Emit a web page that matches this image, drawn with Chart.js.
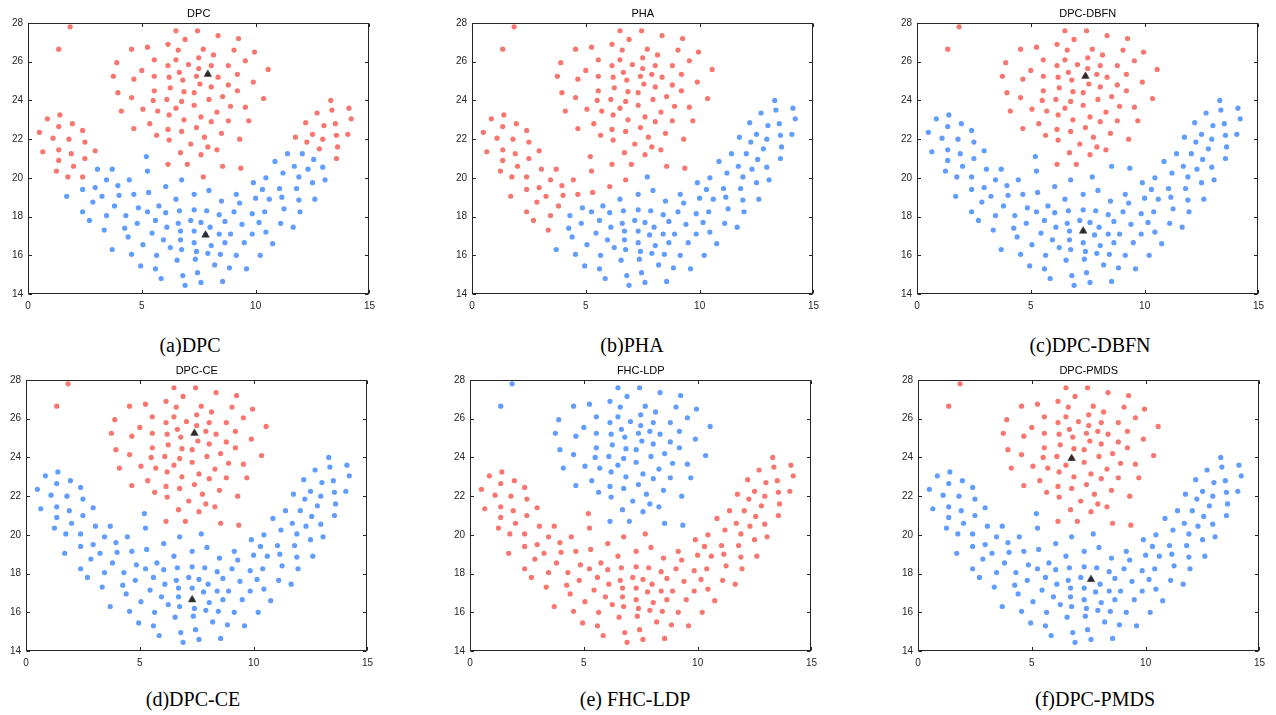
<!DOCTYPE html>
<html>
<head>
<meta charset="utf-8">
<script src="https://cdn.jsdelivr.net/npm/chart.js@4.4.0/dist/chart.umd.min.js"></script>
<style>
  html, body { margin: 0; padding: 0; background: #fff; }
  body { width: 1276px; height: 715px; position: relative; overflow: hidden; }
  canvas { position: absolute; }
  .cap {
    position: absolute;
    font-family: "Liberation Serif", "Times New Roman", serif;
    font-size: 20px;
    color: #000;
    white-space: nowrap;
    transform: translateX(-50%);
  }
</style>
</head>
<body>
<script>
// axis ticks
const xTicks = [0, 5, 10, 15];
const yTicks = [14, 16, 18, 20, 22, 24, 26, 28];

// point groups (x, y)
const outliers = [[1.85,27.8],[1.35,26.65]];
const leftArm = [[1.4,23.25],[0.85,23.05],[0.5,22.35],[0.65,21.35],[1.1,22.05],[1.35,22.65],[1.95,22.8],[2.4,22.45],
  [1.8,22],[2.5,21.85],[2.95,21.4],[1.9,21.25],[1.35,21.45],[1.35,20.9],[1.25,20.35],[1.75,20.05],[2,20.6],[2.5,21]];
const armJoint = [[2.4,20.05]];
const phaLeft = [[1.7,19.05],[3.05,20.45],[3.7,20.45],[3.45,19.9],[2.95,19.5],[2.4,19.4],[2.4,18.25],[2.85,18.75],
  [3.25,19.05],[3.95,19.6],[2.7,17.8],[3.45,18.05],[3.8,18.55],[4,19.1],[4.45,19.9],[4.65,19.15],[3.35,17.3],
  [5.3,19.25],[6.05,19.55]];
const neck = [[5.2,21.1],[5.25,20.35],[6.75,19.9]];
const topCore = [[6.5,27.6],[7.45,27.6],[4.55,26.65],[5.25,26.75],[6.15,26.9],[6.6,26.6],[6.9,27.15],[3.9,25.95],
  [5.55,26.1],[6.5,26.1],[6.15,25.8],[5,25.55],[7.05,25.85],[3.75,25.25],[4.65,25.1],[5.55,25.25],[6.2,25.2],
  [6.65,25.45],[6.8,25.05],[7.4,25.25],[5.55,24.5],[6.25,24.65],[3.95,24.4],[6.85,24.45],[7.3,24.4],[4.55,24.15],
  [5.5,24],[6.1,24.05],[6.75,23.95],[7.3,23.75],[6.5,23.6],[5.7,23.45],[4.1,23.45],[5.05,23.55],[6.2,23.25],
  [6.85,23],[5.35,22.8],[4.65,22.55],[5.65,22.2],[6.15,22.5],[6.75,22.4],[6.2,21.95],[7.15,21.75],[7.4,22.6],
  [6.7,21.3],[6.15,20.7],[7,20.7],
  [8.35,27.35],[9.25,27.2],[7.7,26.65],[8.15,26.35],[9.05,26.6],[9.95,26.5],[7.5,26.2],[8.05,25.8],[8.8,25.8],
  [9.55,26.05],[7.5,25.65],[10.55,25.6],[7.9,25.35],[8.35,25.2],[9.2,25.35],[7.55,24.85],[8.05,24.7],[8.8,24.8],
  [9.9,24.95],[9.2,24.5],[7.95,24.05],[8.55,24.2],[10.35,24.1],[8.9,23.7],[9.55,23.65],[8.3,23.4],[7.6,23.15],
  [8.05,22.9],[8.8,22.95],[9.7,22.95],[8.5,22.3],[7.75,22.1],[9.3,22],[7.9,21.6],[8.3,21.45],[7.6,21.2]];
const edgeLow = [[7.7,20.05]];
const edgeRight = [[8.55,20.6],[9.35,20.5]];
const rightTip = [[13.3,24],[14.1,23.6],[12.7,23.35],[13.35,23.5],[14.2,23.05],[12.2,22.85],[13,22.7],[13.5,22.8],
  [11.75,22.1],[12.5,22.25],[13.55,22.2],[14.05,22.25],[12.25,21.85],[12.95,22],[12.8,21.5],[13.6,21.6],[13.55,21]];
const lowerLeft = [[4.85,18.45],[4.3,18.05],[3.7,16.3],[4.4,16.95],[4.25,17.4],[4.8,17.65],[5.25,18.25],[5.75,18.55],
  [6.5,18.9],[6.05,18.2],[5.6,17.8],[5.45,17.15],[5.05,16.55],[4.55,16.05],[4.95,15.45],[5.85,14.8],[5.6,15.3],
  [5.65,16],[5.95,16.8],[6.25,16.4],[6.1,17.45],[6.6,17.65],[6.65,18.3],[7.3,18.35],[7.85,18.3],[7.15,17.8],
  [7.6,17.7],[6.7,17.25],[7.3,17.25],[6.7,16.8],[7.3,16.65],[6.75,16.3],[7.4,16.2],[6.55,15.75],[7.35,15.8],
  [6.8,14.95],[6.9,14.45],[7.45,15.1]];
const lowerRight = [[7.3,19.15],[7.95,19.35],[8.5,18.8],[9.15,19.15],[9.3,18.7],[10,18.95],[10.6,18.9],[11.15,19],
  [11.9,18.85],[12.6,18.9],[8.4,18.1],[9.05,18.25],[9.85,18.15],[10.4,18.25],[11.25,18.4],[11.95,18.25],
  [8.65,17.75],[9.4,17.6],[10.15,17.7],[11.1,17.65],[11.65,17.45],[8,17.45],[7.8,17.05],[8.4,17.1],[8.9,17.1],
  [9.85,17.1],[10.45,17.2],[8.05,16.5],[8.65,16.65],[9.5,16.65],[10.75,16.6],[7.9,16.1],[8.45,16.05],[9.15,16],
  [10.2,16],[8.2,15.5],[8.85,15.35],[9.6,15.3],[7.6,14.6],[8.55,14.65],
  [9.9,19.75],[10.45,20],[11.2,20.25],[11.7,20.6],[10.85,20.85],[11.4,21.25],[12.05,21.25],[12.55,20.95],
  [12.3,20.45],[12.95,20.55],[11.9,20.05],[12.5,19.75],[13.05,19.9],[10.3,19.4],[11.05,19.45],[11.8,19.45]];

const allGroups = [outliers, leftArm, armJoint, phaLeft, neck, topCore, edgeLow, edgeRight, rightTip, lowerLeft, lowerRight];

// methods
const titles = ['DPC', 'PHA', 'DPC-DBFN', 'DPC-CE', 'FHC-LDP', 'DPC-PMDS'];
const captions = ['(a)DPC', '(b)PHA', '(c)DPC-DBFN', '(d)DPC-CE', '(e) FHC-LDP', '(f)DPC-PMDS'];
// which groups each method puts in the upper cluster
const upperDPC = [outliers, leftArm, armJoint, topCore, edgeLow, edgeRight, rightTip];
const upperPHA = [outliers, leftArm, armJoint, phaLeft, neck, topCore, edgeRight];
const upperDBFN = [outliers, topCore];
const upperCE = [outliers, topCore, edgeRight];
const upperLDP = [outliers, topCore, edgeRight];
const upperPMDS = [outliers, topCore, edgeRight];
const upperSets = [upperDPC, upperPHA, upperDBFN, upperCE, upperLDP, upperPMDS];
const upperIsBlue = [false, false, false, false, true, false];
// cluster centres (triangles)
const centers = [
  [[7.9,25.35],[7.8,17.05]],
  [],
  [[7.4,25.25],[7.3,17.25]],
  [[7.4,25.25],[7.3,16.65]],
  [],
  [[6.75,23.95],[7.6,17.7]]
];

const RED = '#F8766D';
const BLUE = '#619CFF';

// layout: plot box positions
const plotPos = [[28,23],[472,23],[917,23],[26,380],[470,380],[918,380]];
const capPos = [[190,334],[632,334],[1090,334],[193,688],[635,688],[1095,688]];
const PW = 343, PH = 271;
const L = 32, T = 23, R = 10, B = 26;

const toPts = arr => arr.map(p => ({ x: p[0], y: p[1] }));

const matlabBox = {
  id: 'matlabBox',
  afterDraw(chart) {
    const { ctx, chartArea: a, scales } = chart;
    const l = Math.round(a.left) + 0.5, r = Math.round(a.right) - 0.5;
    const t = Math.round(a.top) + 0.5, b = Math.round(a.bottom) - 0.5;
    ctx.save();
    ctx.strokeStyle = '#262626';
    ctx.lineWidth = 1;
    ctx.strokeRect(l, t, r - l, b - t);
    ctx.beginPath();
    xTicks.forEach(v => {
      const px = Math.round(scales.x.getPixelForValue(v)) + 0.5;
      ctx.moveTo(px, b); ctx.lineTo(px, b - 3.5);
      ctx.moveTo(px, t); ctx.lineTo(px, t + 3.5);
    });
    yTicks.forEach(v => {
      const py = Math.round(scales.y.getPixelForValue(v)) + 0.5;
      ctx.moveTo(l, py); ctx.lineTo(l + 3.5, py);
      ctx.moveTo(r, py); ctx.lineTo(r - 3.5, py);
    });
    ctx.stroke();
    // panel title
    ctx.fillStyle = '#000';
    ctx.font = '11px "Liberation Sans", Arial, sans-serif';
    ctx.textAlign = 'center';
    ctx.textBaseline = 'alphabetic';
    ctx.fillText(chart.options.plugins.matlabBox.title, (a.left + a.right) / 2, a.top - 6);
    ctx.restore();
  }
};

titles.forEach((title, i) => {
  const [px, py] = plotPos[i];
  const cv = document.createElement('canvas');
  cv.width = PW + L + R;
  cv.height = PH + T + B;
  cv.style.left = (px - L) + 'px';
  cv.style.top = (py - T) + 'px';
  document.body.appendChild(cv);

  const upper = upperSets[i];
  const lowerGroups = allGroups.filter(g => !upper.includes(g));
  const upperPts = toPts([].concat(...upper));
  const lowerPts = toPts([].concat(...lowerGroups));
  const upColor = upperIsBlue[i] ? BLUE : RED;
  const lowColor = upperIsBlue[i] ? RED : BLUE;

  new Chart(cv.getContext('2d'), {
    type: 'scatter',
    data: {
      datasets: [
        {
          data: toPts(centers[i]),
          pointStyle: 'triangle',
          pointRadius: 4.5,
          backgroundColor: '#2a2a2a',
          borderColor: '#555',
          borderWidth: 0.5
        },
        { data: upperPts, pointRadius: 2.6, backgroundColor: upColor, borderWidth: 0 },
        { data: lowerPts, pointRadius: 2.6, backgroundColor: lowColor, borderWidth: 0 }
      ]
    },
    options: {
      responsive: false,
      animation: false,
      events: [],
      layout: { padding: { top: T, right: R, left: 0, bottom: 0 } },
      plugins: {
        legend: { display: false },
        tooltip: { enabled: false },
        matlabBox: { title }
      },
      scales: {
        x: {
          type: 'linear', min: 0, max: 15,
          afterBuildTicks: s => { s.ticks = xTicks.map(v => ({ value: v })); },
          ticks: { color: '#262626', font: { size: 10, family: '"Liberation Sans", Arial, sans-serif' }, padding: 6, maxRotation: 0 },
          grid: { display: false, drawTicks: false },
          border: { display: false },
          afterFit: s => { s.height = B; }
        },
        y: {
          min: 14, max: 28,
          afterBuildTicks: s => { s.ticks = yTicks.map(v => ({ value: v })); },
          ticks: { color: '#262626', font: { size: 10, family: '"Liberation Sans", Arial, sans-serif' }, padding: 5 },
          grid: { display: false, drawTicks: false },
          border: { display: false },
          afterFit: s => { s.width = L; }
        }
      }
    },
    plugins: [matlabBox]
  });

  const cap = document.createElement('div');
  cap.className = 'cap';
  cap.textContent = captions[i];
  cap.style.left = capPos[i][0] + 'px';
  cap.style.top = capPos[i][1] + 'px';
  document.body.appendChild(cap);
});
</script>
</body>
</html>
